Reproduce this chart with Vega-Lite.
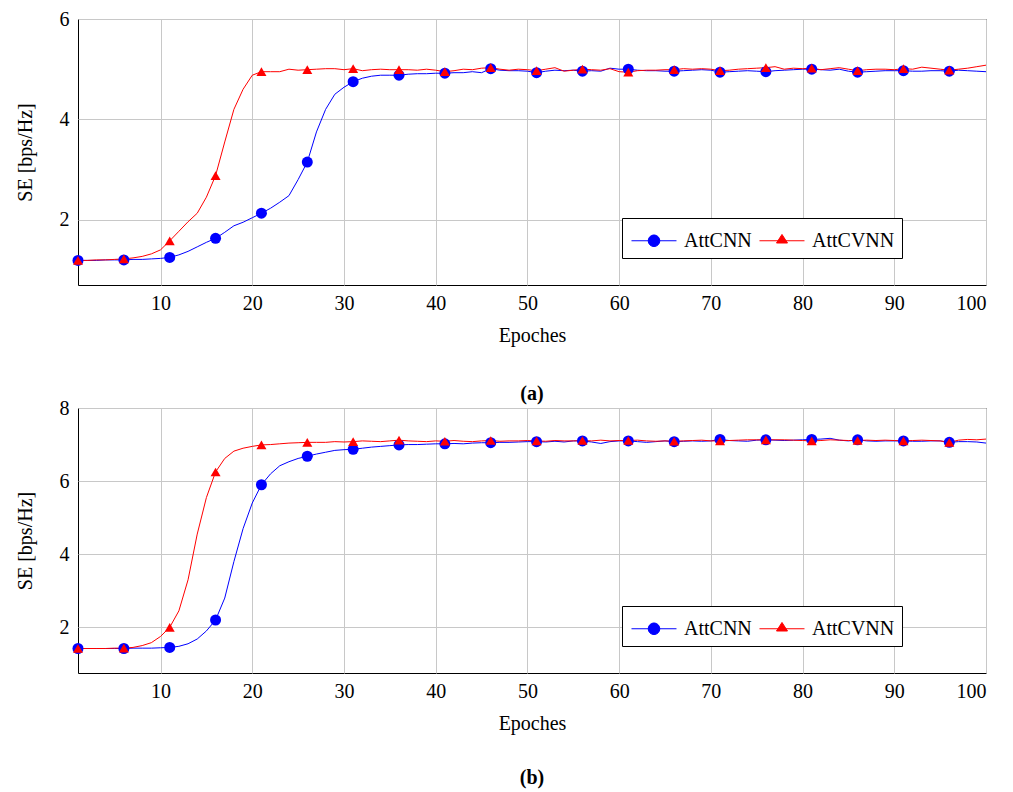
{
  "$schema": "https://vega.github.io/schema/vega-lite/v6.json",
  "background": "white",
  "padding": {"left": 14, "top": 8, "right": 15, "bottom": 5},
  "spacing": -8,
  "config": {
    "font": "Liberation Serif",
    "view": {"stroke": "black", "strokeWidth": 1},
    "axis": {
      "labelFont": "Liberation Serif", "labelFontSize": 20, "labelColor": "black",
      "titleFont": "Liberation Serif", "titleFontSize": 20, "titleFontWeight": "normal", "titleColor": "black",
      "domain": false, "ticks": false, "grid": true, "gridColor": "#c8c8c8", "gridWidth": 1
    },
    "legend": {"labelFont": "Liberation Serif", "labelFontSize": 20, "labelColor": "black", "symbolStrokeWidth": 1},
    "title": {"font": "Liberation Serif", "fontSize": 20, "fontWeight": "bold", "color": "black"}
  },
  "datasets": {
    "a": [
      {"e":1,"AttCNN":1.19,"AttCVNN":1.19},{"e":2,"AttCNN":1.19,"AttCVNN":1.19},{"e":3,"AttCNN":1.19,"AttCVNN":1.20},{"e":4,"AttCNN":1.20,"AttCVNN":1.20},{"e":5,"AttCNN":1.20,"AttCVNN":1.21},
      {"e":6,"AttCNN":1.20,"AttCVNN":1.22},{"e":7,"AttCNN":1.21,"AttCVNN":1.24},{"e":8,"AttCNN":1.21,"AttCVNN":1.27},{"e":9,"AttCNN":1.22,"AttCVNN":1.32},{"e":10,"AttCNN":1.23,"AttCVNN":1.40},
      {"e":11,"AttCNN":1.25,"AttCVNN":1.58},{"e":12,"AttCNN":1.30,"AttCVNN":1.77},{"e":13,"AttCNN":1.37,"AttCVNN":1.96},{"e":14,"AttCNN":1.46,"AttCVNN":2.13},{"e":15,"AttCNN":1.55,"AttCVNN":2.45},
      {"e":16,"AttCNN":1.63,"AttCVNN":2.88},{"e":17,"AttCNN":1.75,"AttCVNN":3.55},{"e":18,"AttCNN":1.88,"AttCVNN":4.20},{"e":19,"AttCNN":1.95,"AttCVNN":4.60},{"e":20,"AttCNN":2.04,"AttCVNN":4.88},
      {"e":21,"AttCNN":2.13,"AttCVNN":4.95},{"e":22,"AttCNN":2.23,"AttCVNN":4.95},{"e":23,"AttCNN":2.35,"AttCVNN":4.95},{"e":24,"AttCNN":2.48,"AttCVNN":5.00},{"e":25,"AttCNN":2.80,"AttCVNN":4.98},
      {"e":26,"AttCNN":3.15,"AttCVNN":4.99},{"e":27,"AttCNN":3.75,"AttCVNN":5.00},{"e":28,"AttCNN":4.20,"AttCVNN":5.01},{"e":29,"AttCNN":4.50,"AttCVNN":5.01},{"e":30,"AttCNN":4.64,"AttCVNN":4.99},
      {"e":31,"AttCNN":4.75,"AttCVNN":5.01},{"e":32,"AttCNN":4.82,"AttCVNN":4.97},{"e":33,"AttCNN":4.86,"AttCVNN":4.99},{"e":34,"AttCNN":4.88,"AttCVNN":5.00},{"e":35,"AttCNN":4.88,"AttCVNN":4.99},
      {"e":36,"AttCNN":4.88,"AttCVNN":4.99},{"e":37,"AttCNN":4.90,"AttCVNN":4.99},{"e":38,"AttCNN":4.91,"AttCVNN":4.98},{"e":39,"AttCNN":4.91,"AttCVNN":5.00},{"e":40,"AttCNN":4.92,"AttCVNN":4.98},
      {"e":41,"AttCNN":4.92,"AttCVNN":4.95},{"e":42,"AttCNN":4.93,"AttCVNN":4.97},{"e":43,"AttCNN":4.93,"AttCVNN":5.00},{"e":44,"AttCNN":4.95,"AttCVNN":4.99},{"e":45,"AttCNN":4.93,"AttCVNN":5.02},
      {"e":46,"AttCNN":5.01,"AttCVNN":5.03},{"e":47,"AttCNN":4.98,"AttCVNN":5.00},{"e":48,"AttCNN":4.97,"AttCVNN":4.98},{"e":49,"AttCNN":4.97,"AttCVNN":5.00},{"e":50,"AttCNN":4.96,"AttCVNN":4.99},
      {"e":51,"AttCNN":4.93,"AttCVNN":4.97},{"e":52,"AttCNN":4.96,"AttCVNN":5.00},{"e":53,"AttCNN":4.98,"AttCVNN":5.03},{"e":54,"AttCNN":4.97,"AttCVNN":4.96},{"e":55,"AttCNN":4.98,"AttCVNN":4.98},
      {"e":56,"AttCNN":4.96,"AttCVNN":5.00},{"e":57,"AttCNN":4.97,"AttCVNN":4.99},{"e":58,"AttCNN":4.96,"AttCVNN":4.98},{"e":59,"AttCNN":5.02,"AttCVNN":5.01},{"e":60,"AttCNN":5.00,"AttCVNN":4.95},
      {"e":61,"AttCNN":5.00,"AttCVNN":4.94},{"e":62,"AttCNN":4.98,"AttCVNN":4.97},{"e":63,"AttCNN":4.97,"AttCVNN":4.98},{"e":64,"AttCNN":4.97,"AttCVNN":4.98},{"e":65,"AttCNN":4.96,"AttCVNN":4.99},
      {"e":66,"AttCNN":4.96,"AttCVNN":4.99},{"e":67,"AttCNN":4.97,"AttCVNN":5.01},{"e":68,"AttCNN":4.98,"AttCVNN":5.00},{"e":69,"AttCNN":4.99,"AttCVNN":5.01},{"e":70,"AttCNN":4.98,"AttCVNN":5.00},
      {"e":71,"AttCNN":4.94,"AttCVNN":4.97},{"e":72,"AttCNN":4.95,"AttCVNN":4.98},{"e":73,"AttCNN":4.96,"AttCVNN":5.00},{"e":74,"AttCNN":4.97,"AttCVNN":5.01},{"e":75,"AttCNN":4.96,"AttCVNN":5.02},
      {"e":76,"AttCNN":4.95,"AttCVNN":5.03},{"e":77,"AttCNN":4.97,"AttCVNN":5.05},{"e":78,"AttCNN":4.98,"AttCVNN":5.00},{"e":79,"AttCNN":4.99,"AttCVNN":5.02},{"e":80,"AttCNN":5.00,"AttCVNN":5.01},
      {"e":81,"AttCNN":5.00,"AttCVNN":5.02},{"e":82,"AttCNN":4.99,"AttCVNN":4.99},{"e":83,"AttCNN":4.98,"AttCVNN":5.01},{"e":84,"AttCNN":5.00,"AttCVNN":5.03},{"e":85,"AttCNN":4.96,"AttCVNN":5.00},
      {"e":86,"AttCNN":4.94,"AttCVNN":4.97},{"e":87,"AttCNN":4.95,"AttCVNN":4.99},{"e":88,"AttCNN":4.96,"AttCVNN":5.00},{"e":89,"AttCNN":4.97,"AttCVNN":5.00},{"e":90,"AttCNN":4.97,"AttCVNN":4.99},
      {"e":91,"AttCNN":4.97,"AttCVNN":5.01},{"e":92,"AttCNN":4.96,"AttCVNN":5.00},{"e":93,"AttCNN":4.96,"AttCVNN":5.04},{"e":94,"AttCNN":4.97,"AttCVNN":5.02},{"e":95,"AttCNN":4.97,"AttCVNN":5.00},
      {"e":96,"AttCNN":4.96,"AttCVNN":4.98},{"e":97,"AttCNN":4.98,"AttCVNN":5.00},{"e":98,"AttCNN":4.97,"AttCVNN":5.02},{"e":99,"AttCNN":4.96,"AttCVNN":5.05},{"e":100,"AttCNN":4.95,"AttCVNN":5.08}
    ],
    "b": [
      {"e":1,"AttCNN":1.42,"AttCVNN":1.42},{"e":2,"AttCNN":1.42,"AttCVNN":1.42},{"e":3,"AttCNN":1.42,"AttCVNN":1.42},{"e":4,"AttCNN":1.42,"AttCVNN":1.42},{"e":5,"AttCNN":1.42,"AttCVNN":1.43},
      {"e":6,"AttCNN":1.42,"AttCVNN":1.43},{"e":7,"AttCNN":1.43,"AttCVNN":1.45},{"e":8,"AttCNN":1.43,"AttCVNN":1.50},{"e":9,"AttCNN":1.43,"AttCVNN":1.58},{"e":10,"AttCNN":1.44,"AttCVNN":1.75},
      {"e":11,"AttCNN":1.45,"AttCVNN":2.00},{"e":12,"AttCNN":1.48,"AttCVNN":2.45},{"e":13,"AttCNN":1.55,"AttCVNN":3.30},{"e":14,"AttCNN":1.68,"AttCVNN":4.55},{"e":15,"AttCNN":1.90,"AttCVNN":5.55},
      {"e":16,"AttCNN":2.20,"AttCVNN":6.25},{"e":17,"AttCNN":2.80,"AttCVNN":6.62},{"e":18,"AttCNN":3.80,"AttCVNN":6.82},{"e":19,"AttCNN":4.70,"AttCVNN":6.90},{"e":20,"AttCNN":5.40,"AttCVNN":6.95},
      {"e":21,"AttCNN":5.90,"AttCVNN":6.99},{"e":22,"AttCNN":6.20,"AttCVNN":7.00},{"e":23,"AttCNN":6.42,"AttCVNN":7.02},{"e":24,"AttCNN":6.53,"AttCVNN":7.04},{"e":25,"AttCNN":6.62,"AttCVNN":7.05},
      {"e":26,"AttCNN":6.68,"AttCVNN":7.06},{"e":27,"AttCNN":6.74,"AttCVNN":7.06},{"e":28,"AttCNN":6.79,"AttCVNN":7.06},{"e":29,"AttCNN":6.84,"AttCVNN":7.08},{"e":30,"AttCNN":6.86,"AttCVNN":7.07},
      {"e":31,"AttCNN":6.87,"AttCVNN":7.08},{"e":32,"AttCNN":6.90,"AttCVNN":7.10},{"e":33,"AttCNN":6.93,"AttCVNN":7.09},{"e":34,"AttCNN":6.95,"AttCVNN":7.08},{"e":35,"AttCNN":6.97,"AttCVNN":7.10},
      {"e":36,"AttCNN":6.99,"AttCVNN":7.12},{"e":37,"AttCNN":7.00,"AttCVNN":7.10},{"e":38,"AttCNN":7.00,"AttCVNN":7.09},{"e":39,"AttCNN":7.01,"AttCVNN":7.08},{"e":40,"AttCNN":7.02,"AttCVNN":7.10},
      {"e":41,"AttCNN":7.02,"AttCVNN":7.09},{"e":42,"AttCNN":7.03,"AttCVNN":7.11},{"e":43,"AttCNN":7.02,"AttCVNN":7.09},{"e":44,"AttCNN":7.04,"AttCVNN":7.08},{"e":45,"AttCNN":7.05,"AttCVNN":7.10},
      {"e":46,"AttCNN":7.05,"AttCVNN":7.11},{"e":47,"AttCNN":7.06,"AttCVNN":7.09},{"e":48,"AttCNN":7.06,"AttCVNN":7.10},{"e":49,"AttCNN":7.07,"AttCVNN":7.10},{"e":50,"AttCNN":7.08,"AttCVNN":7.11},
      {"e":51,"AttCNN":7.08,"AttCVNN":7.10},{"e":52,"AttCNN":7.07,"AttCVNN":7.09},{"e":53,"AttCNN":7.09,"AttCVNN":7.11},{"e":54,"AttCNN":7.07,"AttCVNN":7.10},{"e":55,"AttCNN":7.10,"AttCVNN":7.10},
      {"e":56,"AttCNN":7.10,"AttCVNN":7.11},{"e":57,"AttCNN":7.07,"AttCVNN":7.10},{"e":58,"AttCNN":7.03,"AttCVNN":7.12},{"e":59,"AttCNN":7.08,"AttCVNN":7.10},{"e":60,"AttCNN":7.10,"AttCVNN":7.11},
      {"e":61,"AttCNN":7.10,"AttCVNN":7.11},{"e":62,"AttCNN":7.08,"AttCVNN":7.12},{"e":63,"AttCNN":7.06,"AttCVNN":7.10},{"e":64,"AttCNN":7.08,"AttCVNN":7.09},{"e":65,"AttCNN":7.10,"AttCVNN":7.10},
      {"e":66,"AttCNN":7.08,"AttCVNN":7.09},{"e":67,"AttCNN":7.09,"AttCVNN":7.10},{"e":68,"AttCNN":7.10,"AttCVNN":7.11},{"e":69,"AttCNN":7.09,"AttCVNN":7.12},{"e":70,"AttCNN":7.10,"AttCVNN":7.10},
      {"e":71,"AttCNN":7.14,"AttCVNN":7.10},{"e":72,"AttCNN":7.11,"AttCVNN":7.11},{"e":73,"AttCNN":7.10,"AttCVNN":7.12},{"e":74,"AttCNN":7.09,"AttCVNN":7.13},{"e":75,"AttCNN":7.12,"AttCVNN":7.13},
      {"e":76,"AttCNN":7.13,"AttCVNN":7.13},{"e":77,"AttCNN":7.12,"AttCVNN":7.13},{"e":78,"AttCNN":7.11,"AttCVNN":7.13},{"e":79,"AttCNN":7.12,"AttCVNN":7.12},{"e":80,"AttCNN":7.13,"AttCVNN":7.11},
      {"e":81,"AttCNN":7.14,"AttCVNN":7.10},{"e":82,"AttCNN":7.15,"AttCVNN":7.11},{"e":83,"AttCNN":7.17,"AttCVNN":7.13},{"e":84,"AttCNN":7.12,"AttCVNN":7.12},{"e":85,"AttCNN":7.10,"AttCVNN":7.11},
      {"e":86,"AttCNN":7.13,"AttCVNN":7.11},{"e":87,"AttCNN":7.10,"AttCVNN":7.12},{"e":88,"AttCNN":7.09,"AttCVNN":7.11},{"e":89,"AttCNN":7.10,"AttCVNN":7.12},{"e":90,"AttCNN":7.10,"AttCVNN":7.11},
      {"e":91,"AttCNN":7.10,"AttCVNN":7.10},{"e":92,"AttCNN":7.09,"AttCVNN":7.11},{"e":93,"AttCNN":7.09,"AttCVNN":7.12},{"e":94,"AttCNN":7.10,"AttCVNN":7.11},{"e":95,"AttCNN":7.10,"AttCVNN":7.10},
      {"e":96,"AttCNN":7.06,"AttCVNN":7.06},{"e":97,"AttCNN":7.08,"AttCVNN":7.12},{"e":98,"AttCNN":7.08,"AttCVNN":7.14},{"e":99,"AttCNN":7.07,"AttCVNN":7.13},{"e":100,"AttCNN":7.04,"AttCVNN":7.15}
    ]
  },
  "resolve": {
    "scale": {"color": "independent"},
    "legend": {"color": "independent"}
  },
  "vconcat": [
    {
      "width": 908, "height": 266,
      "data": {"name": "a"},
      "transform": [{"fold": ["AttCNN", "AttCVNN"], "as": ["series", "se"]}],
      "title": {"text": "(a)", "orient": "bottom", "offset": 39},
      "encoding": {
        "x": {"field": "e", "type": "quantitative", "scale": {"domain": [1, 100], "nice": false},
              "axis": {"title": "Epoches", "values": [10,20,30,40,50,60,70,80,90,100], "labelPadding": 8, "titlePadding": 12}},
        "y": {"field": "se", "type": "quantitative", "scale": {"domain": [0.7, 6], "nice": false, "zero": false},
              "axis": {"title": "SE [bps/Hz]", "values": [2,4,6], "labelPadding": 9, "titlePadding": 24}},
        "color": {"field": "series", "type": "nominal",
                  "scale": {"domain": ["AttCNN", "AttCVNN"], "range": ["#0000ff", "#ff0000"]},
                  "legend": {"orient": "none", "legendX": 544, "legendY": 199, "direction": "horizontal", "title": null,
                             "fillColor": "white", "strokeColor": "black", "padding": 7, "symbolSize": 900,
                             "labelOffset": 24, "columnPadding": 5,
                             "encode": {"symbols": {"update": {
                               "shape": {"signal": "datum.value === 'AttCNN' ? 'M-0.867,0L2.133,0M0.246,0A0.387,0.387 0 1,0 1.02,0A0.387,0.387 0 1,0 0.246,0Z' : 'M-0.867,0L2.133,0M0.266,0.15L1.0,0.15L0.633,-0.42Z'"},
                               "size": {"value": 900},
                               "fill": {"signal": "datum.value === 'AttCNN' ? '#0000ff' : '#ff0000'"},
                               "stroke": {"signal": "datum.value === 'AttCNN' ? '#0000ff' : '#ff0000'"},
                               "strokeWidth": {"value": 1}, "opacity": {"value": 1}
                             }}}}}
      },
      "layer": [
        {"mark": {"type": "line", "strokeWidth": 1}},
        {"transform": [{"filter": "datum.e % 5 == 1 && datum.series == 'AttCNN'"}],
         "mark": {"type": "point", "filled": true, "opacity": 1, "shape": "circle", "size": 121}},
        {"transform": [{"filter": "datum.e % 5 == 1 && datum.series == 'AttCVNN'"}],
         "mark": {"type": "point", "filled": true, "opacity": 1, "shape": "triangle-up", "size": 100}}
      ]
    },
    {
      "width": 908, "height": 265,
      "data": {"name": "b"},
      "transform": [{"fold": ["AttCNN", "AttCVNN"], "as": ["series", "se"]}],
      "title": {"text": "(b)", "orient": "bottom", "offset": 35},
      "encoding": {
        "x": {"field": "e", "type": "quantitative", "scale": {"domain": [1, 100], "nice": false},
              "axis": {"title": "Epoches", "values": [10,20,30,40,50,60,70,80,90,100], "labelPadding": 8, "titlePadding": 12}},
        "y": {"field": "se", "type": "quantitative", "scale": {"domain": [0.75, 8], "nice": false, "zero": false},
              "axis": {"title": "SE [bps/Hz]", "values": [2,4,6,8], "labelPadding": 9, "titlePadding": 24}},
        "color": {"field": "series", "type": "nominal",
                  "scale": {"domain": ["AttCNN", "AttCVNN"], "range": ["#0000ff", "#ff0000"]},
                  "legend": {"orient": "none", "legendX": 544, "legendY": 198, "direction": "horizontal", "title": null,
                             "fillColor": "white", "strokeColor": "black", "padding": 7, "symbolSize": 900,
                             "labelOffset": 24, "columnPadding": 5,
                             "encode": {"symbols": {"update": {
                               "shape": {"signal": "datum.value === 'AttCNN' ? 'M-0.867,0L2.133,0M0.246,0A0.387,0.387 0 1,0 1.02,0A0.387,0.387 0 1,0 0.246,0Z' : 'M-0.867,0L2.133,0M0.266,0.15L1.0,0.15L0.633,-0.42Z'"},
                               "size": {"value": 900},
                               "fill": {"signal": "datum.value === 'AttCNN' ? '#0000ff' : '#ff0000'"},
                               "stroke": {"signal": "datum.value === 'AttCNN' ? '#0000ff' : '#ff0000'"},
                               "strokeWidth": {"value": 1}, "opacity": {"value": 1}
                             }}}}}
      },
      "layer": [
        {"mark": {"type": "line", "strokeWidth": 1}},
        {"transform": [{"filter": "datum.e % 5 == 1 && datum.series == 'AttCNN'"}],
         "mark": {"type": "point", "filled": true, "opacity": 1, "shape": "circle", "size": 121}},
        {"transform": [{"filter": "datum.e % 5 == 1 && datum.series == 'AttCVNN'"}],
         "mark": {"type": "point", "filled": true, "opacity": 1, "shape": "triangle-up", "size": 100}}
      ]
    }
  ]
}
